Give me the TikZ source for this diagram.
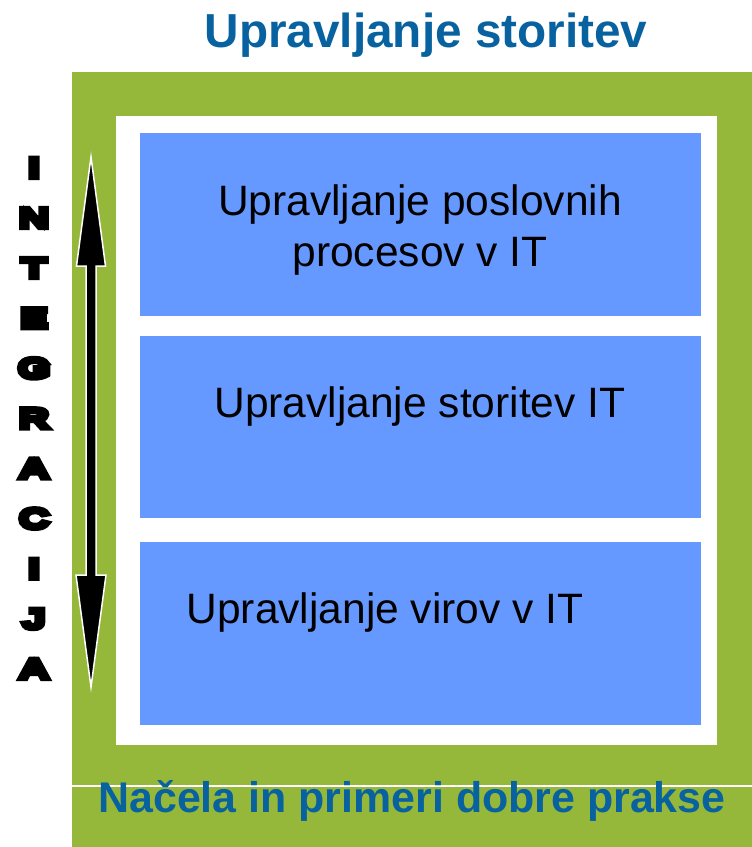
\documentclass[tikz,border=0pt]{standalone}
\usepackage{fontspec}
\setmainfont{Liberation Sans}
\newfontfamily\heavyfont{Liberation Sans Bold}[FakeBold=18,FakeStretch=1.5]
\definecolor{frameGreen}{RGB}{150,184,58}
\definecolor{boxBlue}{RGB}{102,153,255}
\definecolor{titleBlue}{RGB}{8,98,160}
\begin{document}
\begin{tikzpicture}[x=1pt,y=-1pt,
  inner/.style={font=\fontsize{42.5}{50}\selectfont,anchor=base,inner sep=0pt},
  headtext/.style={text=titleBlue,anchor=base,inner sep=0pt},
  letter/.style={font=\heavyfont\fontsize{28}{30}\selectfont,anchor=base,inner sep=0pt}]
\useasboundingbox (0,0) rectangle (752,847);
% green frame
\fill[frameGreen] (72,72) rectangle (752,847);
\fill[white] (116,116) rectangle (717,745);
\draw[white,line width=1.5pt] (72,786) -- (752,786);
% blue boxes
\fill[boxBlue] (140,133) rectangle (701,316);
\fill[boxBlue] (140,336) rectangle (701,518);
\fill[boxBlue] (140,542) rectangle (701,725);
% texts
\node[headtext,font=\fontsize{47.7}{52}\selectfont\bfseries] (title) at (426,47) {Upravljanje storitev};
\node[headtext,font=\fontsize{42.9}{48}\selectfont\bfseries] (bottom) at (412,812) {Na\v{c}ela in primeri dobre prakse};
\node[inner] (b1a) at (420,215) {Upravljanje poslovnih};
\node[inner] (b1b) at (420,266) {procesov v IT};
\node[inner] (b2) at (420,417) {Upravljanje storitev IT};
\node[inner] (b3) at (385,623) {Upravljanje virov v IT};
% INTEGRACIJA letters
\foreach \ch [count=\i from 0] in {I,N,T,E,G,R,A,C,I,J,A}
  \node[letter] (L\i) at (34,{177.5+50.1*\i}) {\ch};
% double arrow
\draw[white,line width=1.5pt,fill=black,line join=miter]
  (91,157) -- (105.5,266) -- (96,266) -- (96,575) -- (106,575) -- (91,687)
  -- (76,575) -- (86,575) -- (86,266) -- (76.5,266) -- cycle;
\end{tikzpicture}
\end{document}
